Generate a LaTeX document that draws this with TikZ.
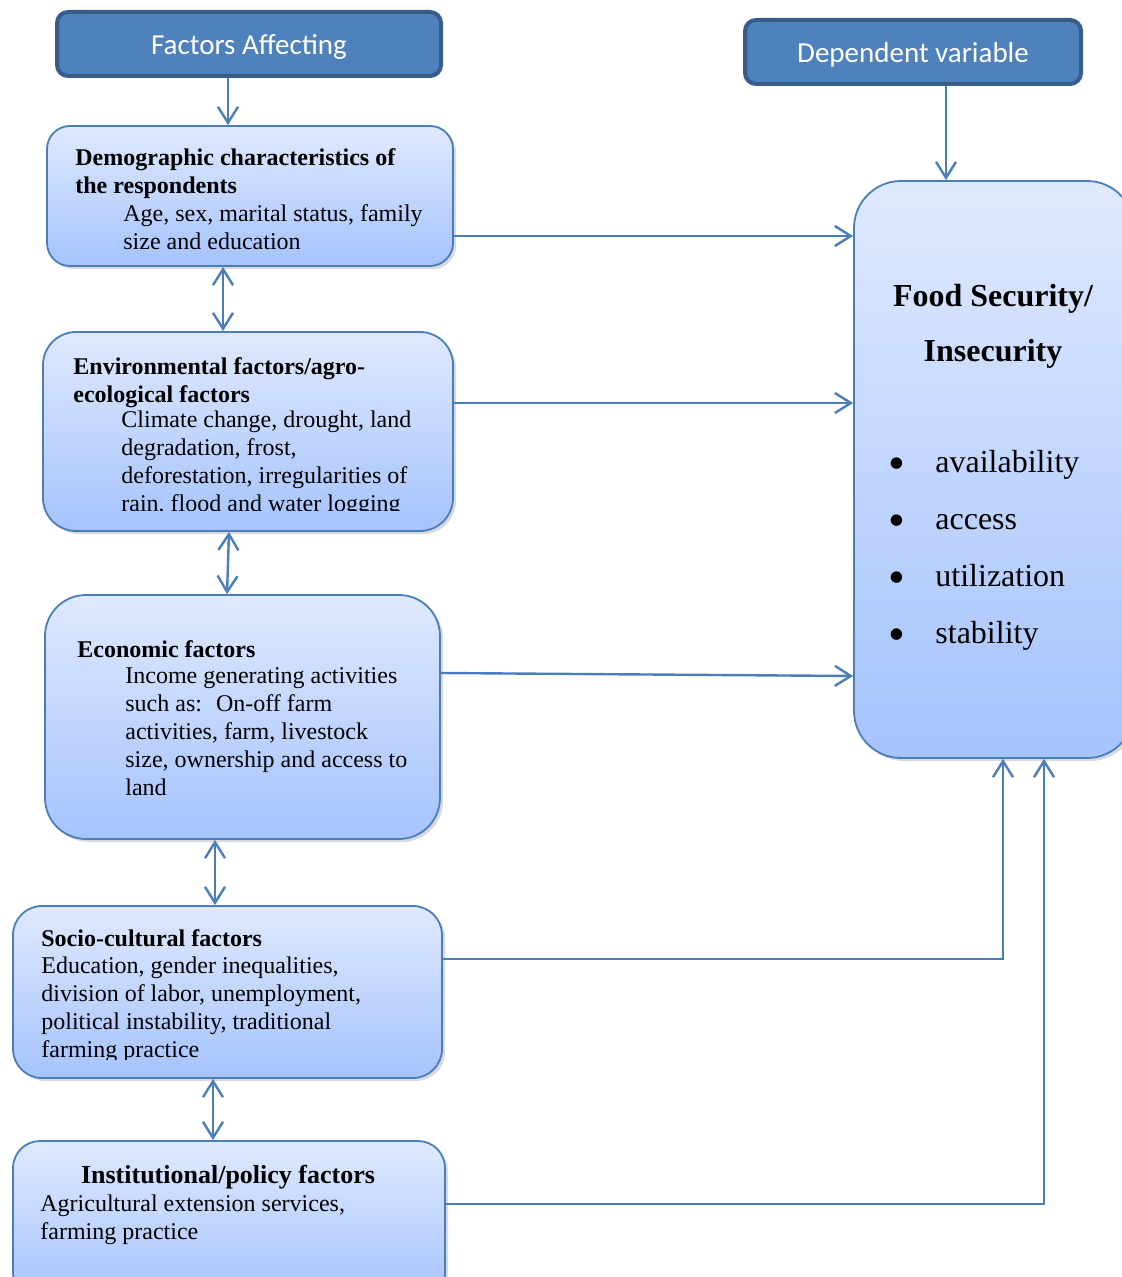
\documentclass[tikz,border=0pt]{standalone}
\usepackage{fontspec}
\setmainfont{Liberation Serif}
\newfontfamily\hdfont{Carlito}
\usetikzlibrary{arrows.meta,shadows}
\definecolor{hdfill}{HTML}{4F81BD}
\definecolor{hdline}{HTML}{385D8A}
\definecolor{ln}{HTML}{4A7EBB}
\definecolor{boxtop}{HTML}{DFE9FE}
\definecolor{boxbot}{HTML}{A5C3FD}
\newcommand\blt{\makebox[23.5pt][l]{\raisebox{-3.5pt}{\fontsize{24}{24}\selectfont\textbullet}}}

\begin{document}
\begin{tikzpicture}[x=0.5pt,y=-0.5pt,
  >={Straight Barb[length=8pt,width=10pt]},
  head/.style={draw=hdline,fill=hdfill,line width=2pt,rounded corners=5.5pt,text=white,
    font=\hdfont\fontsize{14.5}{17}\selectfont,minimum height=32pt,text height=14pt,text depth=3pt},
  fbox/.style={draw=ln,line width=0.9pt,top color=boxtop,bottom color=boxbot,
    drop shadow={shadow xshift=1.5pt,shadow yshift=-1.5pt,opacity=0.3}},
  ttl/.style={anchor=north west,inner sep=0pt,align=left,font=\bfseries\fontsize{12}{14}\selectfont},
  txt/.style={anchor=north west,inner sep=0pt,align=left,font=\fontsize{12}{14}\selectfont},
  arr/.style={draw=ln,line width=1.2pt}]
\useasboundingbox (0,0) rectangle (1122,1277);
\clip (0,0) rectangle (1122,1277);

% headers
\node[head,minimum width=192pt] (fa) at (249,44) {Factors Affecting};
\node[head,minimum width=168pt] (dv) at (913,52) {Dependent variable};

% boxes
\node[fbox,rounded corners=11.5pt,minimum width=203pt,minimum height=70pt] (demo) at (250,196) {};
\node[fbox,rounded corners=16.5pt,minimum width=205pt,minimum height=99.5pt] (env) at (248,431.5) {};
\node[fbox,rounded corners=20.5pt,minimum width=197.5pt,minimum height=122pt] (econ) at (242.5,717) {};
\node[fbox,rounded corners=14.5pt,minimum width=214.5pt,minimum height=86pt] (socio) at (227.5,992) {};
\node[fbox,rounded corners=13.5pt,minimum width=216pt,minimum height=79.5pt] (inst) at (229,1220.5) {};
\node[fbox,rounded corners=23.5pt,minimum width=140pt,minimum height=288.5pt] (food) at (994,469.5) {};

% texts
\node[ttl] (demoH) at (75,148.5) {Demographic characteristics of\\the respondents};
\node[txt] (demoB) at (123,204) {Age, sex, marital status, family\\size and education};

\node[ttl] (envH) at (73,357.5) {Environmental factors/agro-\\ecological factors};
\begin{scope}
\clip (0,0) rectangle (1122,510);
\node[txt] (envB) at (121,410.5) {Climate change, drought, land\\degradation, frost,\\deforestation, irregularities of\\rain, flood and water logging};
\end{scope}

\node[ttl] (econH) at (77,640.5) {Economic factors};
\node[txt] (econB) at (125,667.5) {Income generating activities\\such as:~ On-off farm\\activities, farm, livestock\\size, ownership and access to\\land};

\node[ttl] (socioH) at (41,929.5) {Socio-cultural factors};
\begin{scope}
\clip (0,0) rectangle (1122,1059);
\node[txt] (socioB) at (41,956.5) {Education, gender inequalities,\\division of labor, unemployment,\\political instability, traditional\\farming practice};
\end{scope}

\node[ttl,anchor=north,font=\bfseries\fontsize{13}{15}\selectfont] (instH) at (228,1165) {Institutional/policy factors};
\node[txt] (instB) at (40,1194.5) {Agricultural extension services,\\farming practice};

\node[anchor=north,inner sep=0pt,align=center,font=\bfseries\fontsize{16}{27.5}\selectfont] (foodH) at (993,284) {Food Security/\\Insecurity};
\node[anchor=north west,inner sep=0pt,align=left,font=\fontsize{16}{28.5}\selectfont] (foodL) at (888,450)
  {\blt availability\\\blt access\\\blt utilization\\\blt stability};

% connectors
\draw[arr,->] ([xshift=-10.5pt]fa.south) -- ([xshift=-10.5pt]fa.south |- demo.north);
\draw[arr,->] ([xshift=16.5pt]dv.south) -- ([xshift=16.5pt]dv.south |- food.north);
\draw[arr,<->] ([xshift=-13.5pt]demo.south) -- ([xshift=-13.5pt]demo.south |- env.north);
\draw[arr,<->] ([xshift=-9.5pt]env.south) -- ([xshift=-7.75pt]econ.north);
\draw[arr,<->] ([xshift=-13.75pt]econ.south) -- ([xshift=-13.75pt]econ.south |- socio.north);
\draw[arr,<->] ([xshift=-7.25pt]socio.south) -- ([xshift=-7.25pt]socio.south |- inst.north);
\draw[arr,->] ([yshift=-20pt]demo.east) -- ([yshift=-20pt]demo.east -| food.west);
\draw[arr,->] ([yshift=14.25pt]env.east) -- ([yshift=14.25pt]env.east -| food.west);
\draw[arr,->] ([yshift=22pt]econ.east) -- ([yshift=-103.25pt]food.west);
\draw[arr,->] ([yshift=16.5pt]socio.east) -| ([xshift=4.5pt]food.south);
\draw[arr,->] ([yshift=8.25pt]inst.east) -| ([xshift=25pt]food.south);
\end{tikzpicture}
\end{document}
